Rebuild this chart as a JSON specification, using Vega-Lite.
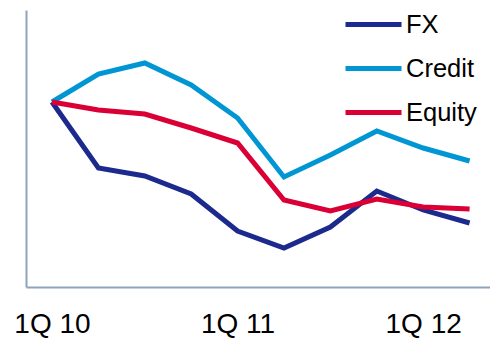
{
  "$schema": "https://vega.github.io/schema/vega-lite/v6.json",
  "width": 464,
  "height": 277,
  "autosize": {"type": "none"},
  "padding": {"left": 26, "top": 10, "right": 0, "bottom": 51},
  "background": "white",
  "config": {
    "view": {"stroke": null},
    "font": "Liberation Sans"
  },
  "data": {
    "values": [
      {"quarter": "1Q 10", "series": "FX", "value": 100},
      {"quarter": "2Q 10", "series": "FX", "value": 67},
      {"quarter": "3Q 10", "series": "FX", "value": 63},
      {"quarter": "4Q 10", "series": "FX", "value": 54},
      {"quarter": "1Q 11", "series": "FX", "value": 35.5},
      {"quarter": "2Q 11", "series": "FX", "value": 27},
      {"quarter": "3Q 11", "series": "FX", "value": 37.5},
      {"quarter": "4Q 11", "series": "FX", "value": 55.5},
      {"quarter": "1Q 12", "series": "FX", "value": 46},
      {"quarter": "2Q 12", "series": "FX", "value": 39.5},
      {"quarter": "1Q 10", "series": "Credit", "value": 100},
      {"quarter": "2Q 10", "series": "Credit", "value": 114},
      {"quarter": "3Q 10", "series": "Credit", "value": 119.5},
      {"quarter": "4Q 10", "series": "Credit", "value": 108.5},
      {"quarter": "1Q 11", "series": "Credit", "value": 92},
      {"quarter": "2Q 11", "series": "Credit", "value": 62.5},
      {"quarter": "3Q 11", "series": "Credit", "value": 73.5},
      {"quarter": "4Q 11", "series": "Credit", "value": 85.5},
      {"quarter": "1Q 12", "series": "Credit", "value": 77},
      {"quarter": "2Q 12", "series": "Credit", "value": 70.5},
      {"quarter": "1Q 10", "series": "Equity", "value": 100},
      {"quarter": "2Q 10", "series": "Equity", "value": 96},
      {"quarter": "3Q 10", "series": "Equity", "value": 94},
      {"quarter": "4Q 10", "series": "Equity", "value": 87},
      {"quarter": "1Q 11", "series": "Equity", "value": 79.5},
      {"quarter": "2Q 11", "series": "Equity", "value": 51},
      {"quarter": "3Q 11", "series": "Equity", "value": 45.5},
      {"quarter": "4Q 11", "series": "Equity", "value": 51.5},
      {"quarter": "1Q 12", "series": "Equity", "value": 47.5},
      {"quarter": "2Q 12", "series": "Equity", "value": 46.5}
    ]
  },
  "mark": {"type": "line", "strokeWidth": 5, "strokeJoin": "miter", "strokeCap": "butt"},
  "encoding": {
    "x": {
      "field": "quarter",
      "type": "ordinal",
      "sort": null,
      "scale": {"type": "point", "paddingOuter": 0.415, "align": 0.56},
      "axis": {
        "title": null,
        "values": ["1Q 10", "1Q 11", "1Q 12"],
        "ticks": false,
        "tickSize": 0,
        "grid": false,
        "domainColor": "#8fa3bb",
        "domainWidth": 2,
        "labelFontSize": 28,
        "labelColor": "#000000",
        "labelPadding": 23,
        "labelAngle": 0
      }
    },
    "y": {
      "field": "value",
      "type": "quantitative",
      "scale": {"domain": [7.5, 146], "zero": false, "nice": false},
      "axis": {
        "title": null,
        "labels": false,
        "ticks": false,
        "grid": false,
        "domainColor": "#8fa3bb",
        "domainWidth": 2
      }
    },
    "color": {
      "field": "series",
      "type": "nominal",
      "sort": ["FX", "Credit", "Equity"],
      "scale": {"domain": ["FX", "Credit", "Equity"], "range": ["#1b2a8c", "#0096d4", "#da0036"]},
      "legend": {
        "title": null,
        "orient": "none",
        "legendX": 317,
        "legendY": -16,
        "padding": 0,
        "symbolType": "stroke",
        "symbolSize": 3136,
        "symbolStrokeWidth": 5,
        "labelFontSize": 25.5,
        "labelColor": "#000000",
        "labelOffset": 2,
        "rowPadding": -15.5
      }
    }
  }
}
